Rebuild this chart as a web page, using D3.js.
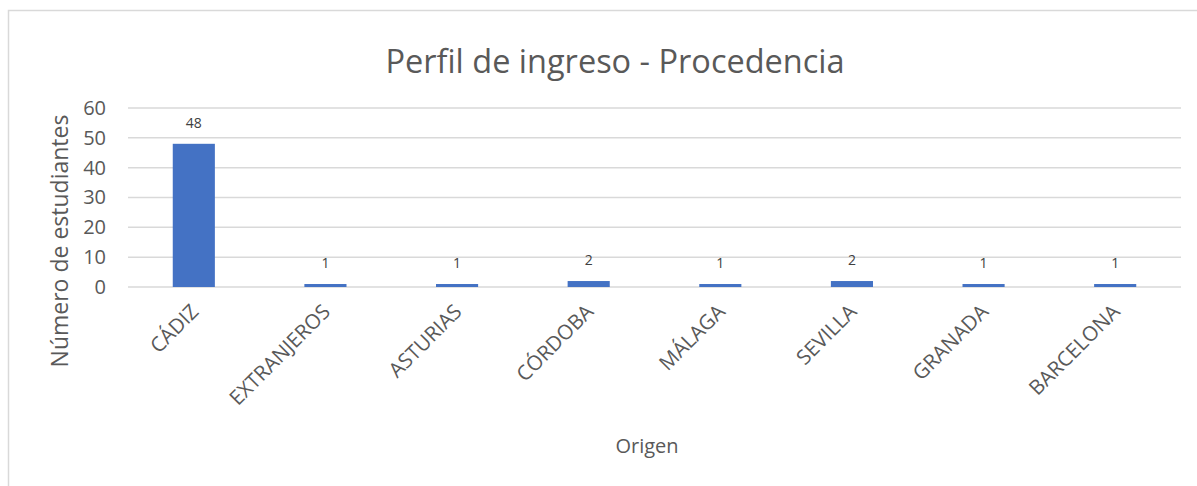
<!DOCTYPE html>
<html><head><meta charset="utf-8">
<script src="https://cdn.jsdelivr.net/npm/d3@7"></script>
<style>body{margin:0;background:#fff}svg{display:block;font-family:"Open Sans",sans-serif}</style>
</head><body>
<script>
const categories = ["CÁDIZ","EXTRANJEROS","ASTURIAS","CÓRDOBA","MÁLAGA","SEVILLA","GRANADA","BARCELONA"];
const values = [48,1,1,2,1,2,1,1];
const yTicks = [0,10,20,30,40,50,60];
const title = "Perfil de ingreso - Procedencia";
const yTitle = "Número de estudiantes";
const xTitle = "Origen";

const W=1197,H=486;
const svg=d3.select("body").append("svg").attr("width",W).attr("height",H);
svg.append("rect").attr("x",8.5).attr("y",10.5).attr("width",W+10).attr("height",H+10)
  .attr("fill","#fff").attr("stroke","#d9d9d9").attr("stroke-width",1.5);

const x=d3.scaleBand().domain(categories).range([128,1181]).paddingInner(0.68).paddingOuter(0.34);
const y=d3.scaleLinear().domain([0,60]).range([287,108]);

const grid=svg.append("g");
grid.selectAll("line").data(yTicks).join("line")
  .attr("x1",128).attr("x2",1181).attr("y1",d=>y(d)).attr("y2",d=>y(d))
  .attr("stroke","#d9d9d9").attr("stroke-width",1.5);

const yAxis=svg.append("g").attr("transform","translate(128,0)")
  .call(d3.axisLeft(y).tickValues(yTicks).tickSize(0).tickPadding(22));
yAxis.select(".domain").remove();
yAxis.selectAll("text").attr("font-size",20).attr("fill","#595959").attr("font-family","Open Sans");

svg.append("g").selectAll("rect").data(values).join("rect")
  .attr("x",(d,i)=>x(categories[i])).attr("width",x.bandwidth())
  .attr("y",d=>y(d)).attr("height",d=>y(0)-y(d)).attr("fill","#4472c4");

svg.append("g").selectAll("text").data(values).join("text")
  .attr("x",(d,i)=>x(categories[i])+x.bandwidth()/2).attr("y",d=>y(d)-16)
  .attr("text-anchor","middle").attr("font-size",14).attr("fill","#404040").text(d=>d);

const xAxis=svg.append("g").attr("transform","translate(0,287)")
  .call(d3.axisBottom(x).tickSize(0).tickPadding(0));
xAxis.select(".domain").remove();
xAxis.selectAll("text").attr("font-size",20.5).attr("fill","#595959").attr("font-family","Open Sans")
  .attr("text-anchor","end").attr("dy",0)
  .attr("transform","translate(6,26) rotate(-45)");

svg.append("text").attr("x",615).attr("y",73).attr("text-anchor","middle")
  .attr("font-size",32.5).attr("fill","#595959").text(title);
svg.append("text").attr("transform","translate(68,241) rotate(-90)").attr("text-anchor","middle")
  .attr("font-size",23).attr("fill","#595959").text(yTitle);
svg.append("text").attr("x",647).attr("y",453).attr("text-anchor","middle")
  .attr("font-size",20).attr("fill","#595959").text(xTitle);
</script>
</body></html>
